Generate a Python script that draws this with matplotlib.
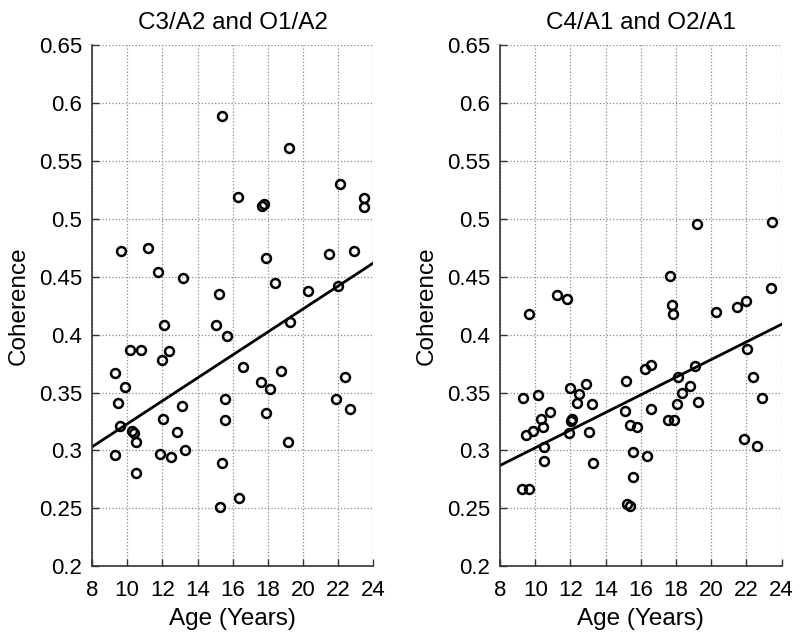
# Coherence vs age for two electrode pairs, scatter with fitted line per panel

import numpy as np
import matplotlib
matplotlib.use("Agg")
import matplotlib.pyplot as plt

plt.rcParams['font.family'] = ['Liberation Sans', 'DejaVu Sans']

# Left panel: C3/A2 and O1/A2
age_left = [15.39, 9.65, 11.21, 11.78, 13.2, 15.21, 16.28, 17.66, 17.79, 19.2,
            22.1, 23.49, 23.49, 17.87, 21.48, 22.9, 18.38, 20.26, 21.97, 12.1,
            15.06, 15.7, 10.16, 10.77, 12.0, 12.37, 9.29, 9.88, 9.5, 9.6,
            10.28, 10.39, 10.49, 9.31, 10.49, 12.03, 13.09, 12.86, 11.87, 12.5,
            13.3, 15.57, 15.57, 15.39, 15.29, 19.28, 16.58, 17.6, 18.12, 18.76,
            17.89, 19.12, 22.41, 21.88, 22.69, 16.37]
coh_left = [0.589, 0.472, 0.475, 0.454, 0.449, 0.435, 0.519, 0.511, 0.513, 0.561,
            0.530, 0.518, 0.510, 0.466, 0.470, 0.472, 0.445, 0.438, 0.442, 0.408,
            0.408, 0.399, 0.387, 0.387, 0.378, 0.386, 0.367, 0.355, 0.341, 0.321,
            0.317, 0.315, 0.307, 0.296, 0.280, 0.327, 0.338, 0.316, 0.297, 0.294,
            0.300, 0.344, 0.326, 0.289, 0.251, 0.411, 0.372, 0.359, 0.353, 0.369,
            0.332, 0.307, 0.363, 0.344, 0.336, 0.259]
fit_x_left = [8, 24]
fit_y_left = [0.303, 0.462]

# Right panel: C4/A1 and O2/A1
age_right = [9.66, 11.21, 11.79, 9.28, 10.17, 11.98, 12.49, 12.89, 12.38, 13.2,
             15.15, 15.08, 15.38, 15.76, 15.57, 15.57, 15.23, 15.36, 9.49, 9.89,
             10.32, 10.43, 10.81, 10.47, 10.47, 9.26, 9.62, 12.06, 12.02, 11.92,
             13.06, 13.3, 17.64, 17.76, 17.84, 20.25, 21.46, 21.97, 23.42, 22.06,
             22.37, 22.88, 21.84, 22.61, 16.25, 16.59, 19.06, 18.1, 18.78, 18.34,
             18.08, 19.27, 16.57, 17.57, 17.87, 16.36, 19.19, 23.44]
coh_right = [0.418, 0.434, 0.431, 0.345, 0.348, 0.354, 0.349, 0.357, 0.341, 0.340,
             0.360, 0.334, 0.322, 0.320, 0.299, 0.277, 0.254, 0.252, 0.313, 0.317,
             0.327, 0.320, 0.333, 0.303, 0.291, 0.267, 0.267, 0.327, 0.325, 0.315,
             0.316, 0.289, 0.451, 0.426, 0.418, 0.420, 0.424, 0.429, 0.440, 0.388,
             0.363, 0.345, 0.310, 0.304, 0.370, 0.374, 0.373, 0.363, 0.356, 0.350,
             0.340, 0.342, 0.336, 0.326, 0.326, 0.295, 0.496, 0.497]
fit_x_right = [8, 24]
fit_y_right = [0.287, 0.409]

titles = ['C3/A2 and O1/A2', 'C4/A1 and O2/A1']
x_ticks = [8, 10, 12, 14, 16, 18, 20, 22, 24]
y_ticks = [0.2, 0.25, 0.3, 0.35, 0.4, 0.45, 0.5, 0.55, 0.6, 0.65]
y_tick_labels = ['0.2', '0.25', '0.3', '0.35', '0.4', '0.45', '0.5', '0.55', '0.6', '0.65']

fig, axes = plt.subplots(1, 2, figsize=(8, 6.36), dpi=100)
fig.subplots_adjust(left=0.115, right=0.977, bottom=0.110, top=0.9285, wspace=0.45)

panels = [(age_left, coh_left, fit_x_left, fit_y_left),
          (age_right, coh_right, fit_x_right, fit_y_right)]

for ax, (ages, cohs, fx, fy), title in zip(axes, panels, titles):
    ax.plot(ages, cohs, linestyle='none', marker='o', markersize=6.4,
            markerfacecolor='none', markeredgecolor='black', markeredgewidth=1.8)
    ax.plot(fx, fy, color='black', linewidth=2)

    ax.set_xlim(8, 24)
    ax.set_ylim(0.2, 0.65)
    ax.set_xticks(x_ticks)
    ax.set_yticks(y_ticks)
    ax.set_yticklabels(y_tick_labels)

    # MATLAB look: dotted grid, inward ticks, no box
    ax.grid(True, linestyle=':', color='#8a8a8a', linewidth=0.9)
    ax.set_axisbelow(True)
    ax.spines['top'].set_visible(False)
    ax.spines['right'].set_visible(False)
    ax.spines['left'].set_color('#333333')
    ax.spines['bottom'].set_color('#333333')
    ax.spines['left'].set_linewidth(1.2)
    ax.spines['bottom'].set_linewidth(1.2)
    ax.tick_params(axis='both', direction='in', length=5, width=1,
                   colors='#333333', labelcolor='black', labelsize=16)
    ax.tick_params(axis='x', pad=10)
    ax.tick_params(axis='y', pad=7)

    ax.set_title(title, fontsize=17.5, pad=12)
    ax.set_xlabel('Age (Years)', fontsize=17.5, labelpad=5)
    ax.set_ylabel('Coherence', fontsize=17.5, labelpad=7)

fig.savefig('out.png', dpi=100)
